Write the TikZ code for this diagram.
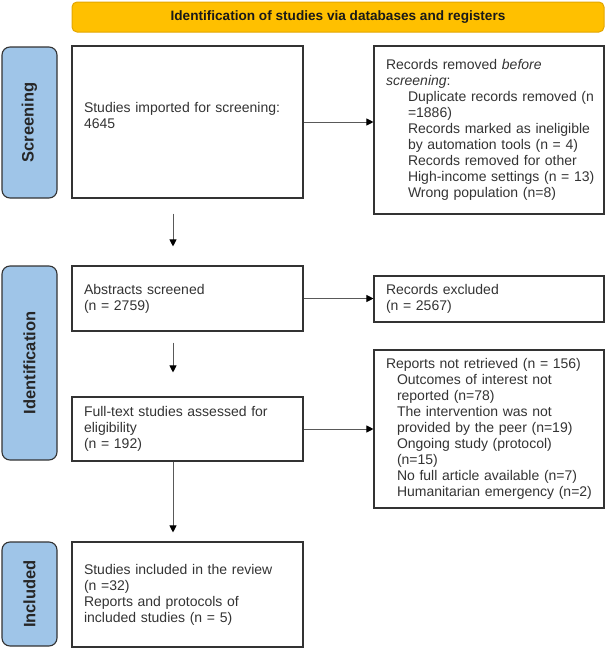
\documentclass[tikz,border=0pt]{standalone}
\usepackage{fontspec}
\setmainfont{Liberation Sans}
\usetikzlibrary{arrows.meta}

\definecolor{tabblue}{HTML}{9FC5E8}
\definecolor{amber}{HTML}{FFC000}
\definecolor{amberline}{HTML}{E3A600}
\definecolor{ink}{HTML}{333333}
\newcommand{\indline}[2]{\hspace*{#1}\mbox{#2}}

\begin{document}
\begin{tikzpicture}[x=1pt, y=-1pt,
  box/.style={draw=ink, line width=1.1pt, text=ink, align=left, inner xsep=12pt, inner ysep=0pt,
    font=\fontsize{14}{16}\selectfont},
  leftbox/.style={box, minimum width=231pt, text width=207pt},
  rightbox/.style={box, minimum width=230pt, text width=206pt},
  tab/.style={draw=ink, line width=1.1pt, fill=tabblue, rounded corners=8pt, rotate=90,
    minimum height=55pt, text=black!85, font=\fontsize{16.5}{18}\selectfont\bfseries},
  flow/.style={draw=black!65, line width=0.9pt, -{Triangle[length=7pt,width=7pt,color=black]}}]
  \useasboundingbox (0,0) rectangle (606,648);
  % header
  \node[draw=amberline, line width=1pt, fill=amber, rounded corners=5pt, minimum width=532pt,
    minimum height=30pt, text=black!90, font=\fontsize{13.6}{16}\selectfont\bfseries]
    (head) at (338,17) {Identification of studies via databases and registers};
  % phase tabs
  \node[tab, minimum width=151pt] (tabscreen) at (29.5,122.5) {Screening};
  \node[tab, minimum width=194pt] (tabident) at (29.5,363) {Identification};
  \node[tab, minimum width=104pt] (tabincl) at (29.5,594) {Included};
  % main column
  \node[leftbox, minimum height=152pt] (screen) at (187.5,122)
    {Studies imported for screening:\\4645\\[-2pt]\mbox{}};
  \node[leftbox, minimum height=65pt] (abstracts) at (187.5,298.5)
    {Abstracts screened\\(n = 2759)};
  \node[leftbox, minimum height=64pt] (fulltext) at (187.5,429)
    {Full-text studies assessed for\\eligibility\\(n = 192)};
  \node[leftbox, minimum height=105pt] (included) at (187.5,594.5)
    {Studies included in the review\\(n =32)\\Reports and protocols of\\included studies (n = 5)};
  % side column
  \node[rightbox, minimum height=168pt] (removed) at (489,130)
    {Records removed \emph{before}\\\emph{screening}:\\
     \indline{22pt}{Duplicate records removed (n}\\\indline{22pt}{=1886)}\\
     \indline{22pt}{Records marked as ineligible}\\\indline{22pt}{by automation tools (n = 4)}\\
     \indline{22pt}{Records removed for other}\\\indline{22pt}{High-income settings (n = 13)}\\
     \indline{22pt}{Wrong population (n=8)}};
  \node[rightbox, minimum height=46pt] (excluded) at (489,299)
    {Records excluded\\(n = 2567)};
  \node[rightbox, minimum height=158pt] (reports) at (489,429)
    {Reports not retrieved (n = 156)\\
     \indline{11pt}{Outcomes of interest not}\\\indline{11pt}{reported (n=78)}\\
     \indline{11pt}{The intervention was not}\\\indline{11pt}{provided by the peer (n=19)}\\
     \indline{11pt}{Ongoing study (protocol)}\\\indline{11pt}{(n=15)}\\
     \indline{11pt}{No full article available (n=7)}\\
     \indline{11pt}{Humanitarian emergency (n=2)}};
  % arrows
  \draw[flow, shorten <=15pt, shorten >=19pt] ([xshift=-14.5pt]screen.south) -- ([xshift=-14.5pt]abstracts.north);
  \draw[flow, shorten <=11pt, shorten >=24pt] ([xshift=-14.5pt]abstracts.south) -- ([xshift=-14.5pt]fulltext.north);
  \draw[flow, shorten >=9pt] ([xshift=-14.5pt]fulltext.south) -- ([xshift=-14.5pt]included.north);
  \draw[flow] (screen.east) -- (screen.east -| removed.west);
  \draw[flow] (abstracts.east) -- (abstracts.east -| excluded.west);
  \draw[flow] (fulltext.east) -- (fulltext.east -| reports.west);
\end{tikzpicture}
\end{document}
